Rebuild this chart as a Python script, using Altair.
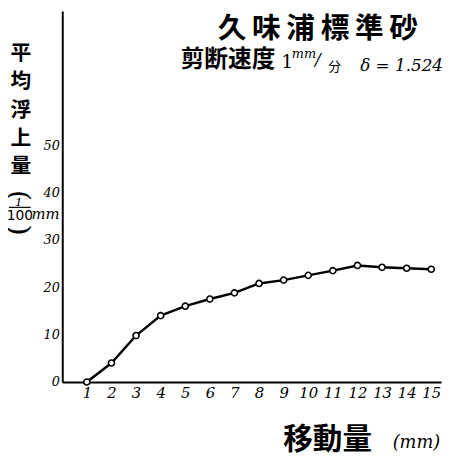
import altair as alt
import pandas as pd

# ---- data ----
displacement = [1, 2, 3, 4, 5, 6, 7, 8, 9, 10, 11, 12, 13, 14, 15]
uplift = [0.0, 4.0, 9.8, 14.0, 16.0, 17.5, 18.8, 20.8, 21.5, 22.5, 23.5, 24.6, 24.2, 24.0, 23.8]
x_ticks = list(range(1, 16))
y_ticks = [0, 10, 20, 30, 40, 50]

title_text = "久\u2009味\u2009浦\u2009標\u2009準\u2009砂"
subtitle_text = "剪断速度"
y_title_chars = ["平", "均", "浮", "上", "量"]
x_title_text = "移動量"

df = pd.DataFrame({"d": displacement, "u": uplift})

JP = "Noto Sans CJK JP"
SERIF = "DejaVu Serif"

xs = alt.X("d:Q", scale=alt.Scale(domain=[0, 15.4], nice=False, zero=False),
           axis=alt.Axis(values=x_ticks, title=None, labelPadding=4, labelFontSize=15,
                         labelFlush=False))
ys = alt.Y("u:Q", scale=alt.Scale(domain=[0, 78.3], nice=False),
           axis=alt.Axis(values=y_ticks, title=None, labelPadding=3, labelFontSize=13))

line = alt.Chart(df).mark_line(color="black", strokeWidth=2.5).encode(x=xs, y=ys)
pts = alt.Chart(df).mark_point(shape="circle", filled=True, fill="white", stroke="black",
                               strokeWidth=1.6, size=38, opacity=1).encode(x=xs, y=ys)

one = pd.DataFrame({"k": [0]})


def txt(s, x, y, size, font=JP, weight="normal", style="normal", align="center",
        baseline="middle", angle=0):
    return alt.Chart(one).mark_text(
        text=s, font=font, fontSize=size, fontWeight=weight, fontStyle=style,
        align=align, baseline=baseline, angle=angle, color="black"
    ).encode(x=alt.value(x), y=alt.value(y))


layers = [line, pts]
# title block (top right)
layers.append(txt(title_text, 259, 18, 29, weight="bold"))
layers.append(txt(subtitle_text, 168, 50, 24, weight="bold"))
layers.append(txt("1", 228, 52, 19, font=SERIF))
layers.append(txt("mm", 245, 44, 13, font=SERIF, style="italic"))
layers.append(txt("/", 259, 50, 17, font=SERIF, style="italic"))
layers.append(txt("分", 276, 57, 13))
layers.append(txt("δ = 1.524", 302, 56, 17, font=SERIF, style="italic", align="left"))

# y-axis title (vertical, stacked characters)
for i, ch in enumerate(y_title_chars):
    layers.append(txt(ch, -42, 44 + i * 28.5, 21, weight="bold"))
layers.append(txt("(", -44, 187, 29, font=SERIF, angle=90))   # upper bracket (vertical form)
layers.append(txt("1", -44, 194, 12, font=SERIF, style="italic"))
layers.append(alt.Chart(one).mark_rule(color="black", strokeWidth=1.2).encode(
    x=alt.value(-54), x2=alt.value(-32), y=alt.value(199)))
layers.append(txt("100", -43, 208, 14, font="DejaVu Sans"))
layers.append(txt(")", -44, 222, 29, font=SERIF, angle=90))   # lower bracket (vertical form)
layers.append(txt("mm", -17, 206, 15, font=SERIF, style="italic"))

# x-axis title
layers.append(txt(x_title_text, 269, 435, 30, weight="bold"))
layers.append(txt("(mm)", 359, 438, 18, font=SERIF, style="italic"))

chart = alt.layer(*layers).properties(
    width=384, height=376,
    autosize=alt.AutoSizeParams(type="none"),
    padding={"left": 55, "top": 0, "right": 6, "bottom": 74},
    background="white",
).configure_view(stroke=None).configure_axis(
    domainColor="black", domainWidth=2, grid=False, ticks=False,
    labelFont=SERIF, labelFontStyle="italic", labelColor="black",
)

chart.save("out.html", embed_options={"renderer": "svg", "actions": False})
